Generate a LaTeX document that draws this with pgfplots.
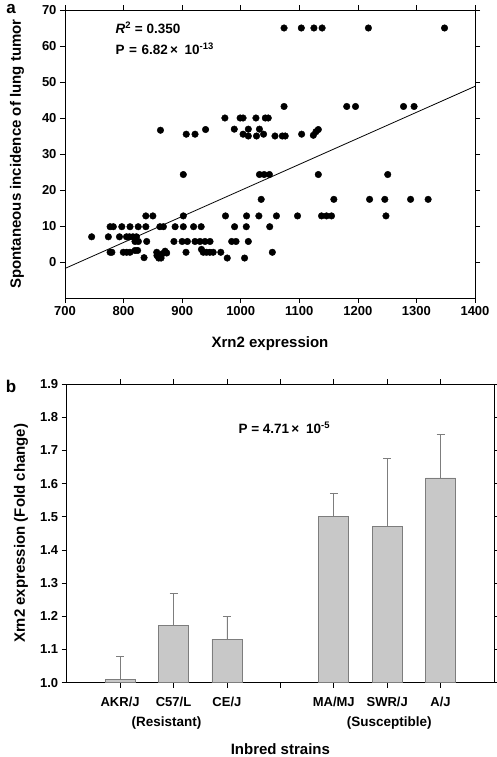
\documentclass[border=0pt]{standalone}
\usepackage{fontspec}
\setmainfont{Liberation Sans}
\usepackage{pgfplots}
\pgfplotsset{compat=1.18}
\definecolor{barfill}{RGB}{200,200,200}
\definecolor{baredge}{RGB}{125,125,125}
\begin{document}
\begin{tikzpicture}
\path[use as bounding box] (0pt,0pt) rectangle (496pt,757pt);
\node[anchor=center,font=\fontsize{17}{19}\selectfont\bfseries] at (11pt,748pt) {a};
\node[anchor=center,font=\fontsize{17}{19}\selectfont\bfseries] at (11pt,371pt) {b};
\begin{axis}[
  at={(65pt,459pt)}, anchor=south west,
  width=410pt, height=288pt, scale only axis,
  xmin=700, xmax=1400, ymin=-10, ymax=70,
  xtick={700,800,...,1400}, ytick={0,10,...,70},
  tick align=outside, major tick length=5pt,
  tick style={black, line width=0.6pt},
  axis line style={black, line width=0.8pt},
  scaled ticks=false,
  /pgf/number format/assume math mode=true,
  /pgf/number format/1000 sep={},
  ticklabel style={font=\fontsize{13}{15}\selectfont\bfseries},
  xlabel={Xrn2 expression},
  ylabel={Spontaneous incidence of lung tumor},
  every axis x label/.style={at={(axis description cs:0.5,-0.16)}, anchor=center, font=\fontsize{15}{17}\selectfont\bfseries},
  every axis y label/.style={at={(axis description cs:-0.117,0.5)}, anchor=center, rotate=90, font=\fontsize{15}{17}\selectfont\bfseries},
  clip=false,
]
\addplot[only marks, mark=*, mark size=3.3pt, black] coordinates {
(1074,65) (1103.5,65) (1125,65) (1139,65) (1218,65) (1348,65)
(1074,43.2) (1181,43.2) (1196,43.2) (1278,43.2) (1296,43.2)
(973,40) (999,40) (1004,40) (1026,40) (1042,40) (1047,40)
(863,36.6) (940,36.8) (989,36.9) (1013,36.9) (1032,36.9) (1132.5,36.8) (1128.5,36.2)
(907,35.5) (922,35.5) (1004,35.5) (1039,35.5) (1104,35.5) (1124,35.2)
(1013,35) (1027,35) (1058.5,35) (1071,35) (1076,35)
(902,24.3) (1032,24.3) (1040,24.3) (1049,24.3) (1132.5,24.3) (1251,24.3)
(1035,17.4) (1159,17.4) (1220,17.4) (1246,17.4) (1290,17.4) (1320,17.4)
(838,12.8) (850,12.8) (902,12.8) (974,12.8) (1010,12.8) (1031,12.8) (1061,12.8) (1097,12.8) (1138,12.8) (1146.5,12.8) (1155,12.8) (1248,12.8)
(777,9.8) (782.5,9.8) (797,9.8) (811,9.8) (825,9.8) (838,9.8) (862,9.8) (868,9.8) (888,9.8) (902,9.8) (919.5,9.8) (932.5,9.8) (989.5,9.8) (1009.5,9.8) (1049.5,9.8)
(745.5,7) (774,7) (793,7) (805,7) (810,7) (816,7) (822,7)
(819.5,5.7) (825.3,5.7) (839.5,5.7) (886,5.7) (900,5.7) (909,5.7) (922,5.7) (930.5,5.7) (939,5.7) (947.6,5.7) (984.6,5.7) (992,5.7) (1013,5.7)
(777,2.7) (780,2.7) (799.5,2.7) (805.3,2.7) (811,2.7) (819.5,3.2) (824,3.2) (856.6,2.7) (866.2,2.3) (870.9,3) (873.6,2.5) (906.6,2.7) (933,3.5) (936,2.7) (941.6,2.7) (947.3,2.7) (953,2.7) (966,2.7) (1054,2.7)
(835,1.2) (857,1.8) (860,1.1) (864,1.1) (977,1.1) (1006.6,1.1)
};
\addplot[black, line width=0.8pt] coordinates {(700,-1.8) (1400,48.8)};
\node[anchor=west, font=\fontsize{13.5}{15}\selectfont\bfseries] at (axis description cs:0.115,0.9375) {\textit{R}\textsuperscript{2} = 0.350};
\node[anchor=west, font=\fontsize{13.5}{15}\selectfont\bfseries] at (axis description cs:0.115,0.865) {P\,\,=\,\,6.82\,×\,\,\,10\textsuperscript{-13}};
\end{axis}
\begin{axis}[
  at={(66.7pt,74.3pt)}, anchor=south west,
  width=427.3pt, height=298.7pt, scale only axis,
  xmin=-1, xmax=7, ymin=1.0, ymax=1.9,
  xtick={0,1,2,3,4,5,6},
  xticklabels={AKR/J,C57/L,CE/J,,MA/MJ,SWR/J,A/J},
  ytick={1.0,1.1,...,1.9},
  yticklabel style={/pgf/number format/fixed, /pgf/number format/fixed zerofill, /pgf/number format/precision=1},
  tick align=outside, major tick length=5pt,
  tick style={black, line width=0.6pt},
  axis line style={black, line width=0.8pt},
  /pgf/number format/assume math mode=true,
  ticklabel style={font=\fontsize{13}{15}\selectfont\bfseries},
  xticklabel style={yshift=-6pt},
  xlabel={Inbred strains},
  ylabel={Xrn2 expression (Fold change)},
  every axis x label/.style={at={(axis description cs:0.5,-0.224)}, anchor=center, font=\fontsize{15}{17}\selectfont\bfseries},
  every axis y label/.style={at={(axis description cs:-0.107,0.5)}, anchor=center, rotate=90, font=\fontsize{15}{17}\selectfont\bfseries},
  clip=false,
]
\addplot[ybar, bar width=30pt, fill=barfill, draw=baredge, line width=0.7pt,
  error bars/.cd, y dir=plus, y explicit,
  error bar style={baredge, line width=0.7pt},
  error mark options={rotate=90, mark size=4pt, baredge, line width=0.7pt}]
coordinates {
(0,1.01) +- (0,0.068)
(1,1.173) +- (0,0.096)
(2,1.131) +- (0,0.068)
(4,1.500) +- (0,0.072)
(5,1.470) +- (0,0.206)
(6,1.617) +- (0,0.130)
};
\node[anchor=west, font=\fontsize{13.5}{15}\selectfont\bfseries] at (axis description cs:0.394,0.853) {P = 4.71\,×\,\,\,10\textsuperscript{-5}};
\node[anchor=center, font=\fontsize{13.5}{15}\selectfont\bfseries] at (axis cs:0.87,1.0) [yshift=-40pt] {(Resistant)};
\node[anchor=center, font=\fontsize{13.5}{15}\selectfont\bfseries] at (axis cs:5.04,1.0) [yshift=-40pt] {(Susceptible)};
\end{axis}
\end{tikzpicture}
\end{document}
